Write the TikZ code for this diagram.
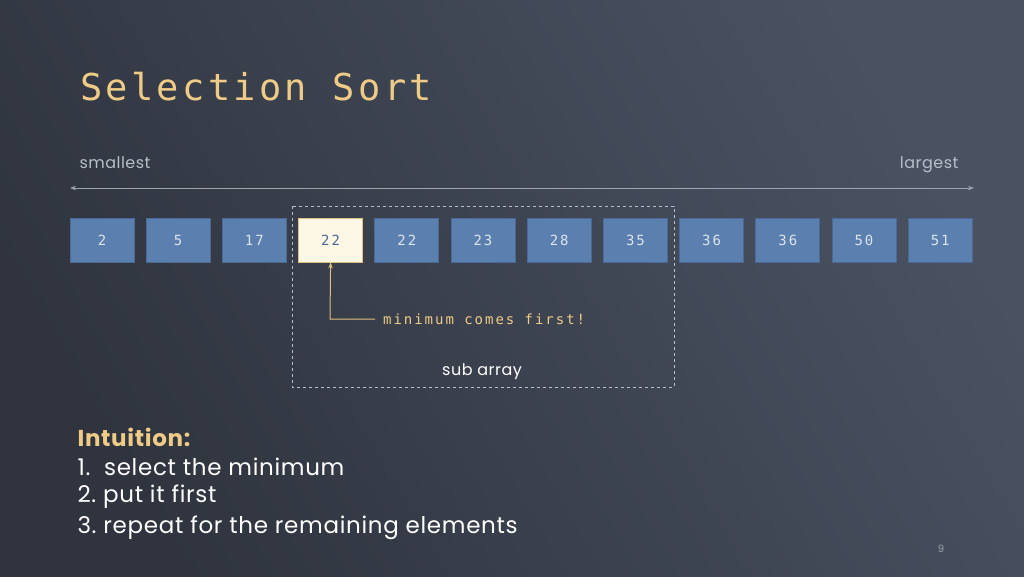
\documentclass[tikz,border=0pt]{standalone}
\usepackage{fontspec}
\setmainfont{Poppins}
\newfontfamily\monof{DejaVu Sans Mono}
\newfontfamily\monow[LetterSpace=14]{DejaVu Sans Mono}
\newfontfamily\monot[LetterSpace=9]{DejaVu Sans Mono}
\newfontfamily\bodyf[LetterSpace=3]{Poppins}
\usetikzlibrary{arrows.meta}
\definecolor{bgA}{HTML}{2F343E}
\definecolor{bgD}{HTML}{4A5262}
\definecolor{boxfill}{HTML}{5B7FAE}
\definecolor{boxline}{HTML}{4A6A95}
\definecolor{boxtext}{HTML}{DDE5EE}
\definecolor{hifill}{HTML}{FDF8E6}
\definecolor{hiline}{HTML}{E0C080}
\definecolor{gold}{HTML}{EFCB88}
\definecolor{soft}{HTML}{B8BEC8}
\definecolor{axis}{HTML}{9EA3AC}
\tikzset{
 cell/.style={draw=boxline, fill=boxfill, line width=0.8pt, minimum width=64pt, minimum height=44pt, inner sep=0pt, text=boxtext, font=\monow\fontsize{14}{16}\selectfont},
 hicell/.style={cell, fill=hifill, draw=hiline, text=boxline},
}
\begin{document}
\begin{tikzpicture}[x=1pt,y=-1pt]
\shade[left color=bgD, right color=bgA, shading angle=300] (0,0) rectangle (1024,576);
\useasboundingbox (0,0) rectangle (1024,576);
\node[anchor=west, inner sep=0pt, text=gold, font=\monot\fontsize{37}{40}\selectfont] (title) at (80,87) {Selection Sort};
\node[anchor=west, text=soft, font=\bodyf\fontsize{16}{18}\selectfont] (small) at (76,163) {smallest};
\node[anchor=east, text=soft, font=\bodyf\fontsize{16}{18}\selectfont] (large) at (962,165) {largest};
\coordinate (al) at (70,188); \coordinate (ar) at (974,188);
\draw[axis, line width=0.8pt, {Stealth[length=6pt]}-{Stealth[length=6pt]}] (al) -- (ar);
\foreach \v [count=\i] in {2,5,17,22,22,23,28,35,36,36,50,51}{
  \ifnum\i=4
    \node[hicell] (c\i) at ({102+76.2*(\i-1)},240) {\v};
  \else
    \node[cell] (c\i) at ({102+76.2*(\i-1)},240) {\v};
  \fi
}
\draw[soft, dashed, line width=0.8pt] (292,206) rectangle (674,387);
\node[text=white, font=\bodyf\fontsize{16}{18}\selectfont] (sub) at (482,372) {sub array};
\node[anchor=west, inner sep=0pt, text=gold, font=\monow\fontsize{14}{16}\selectfont] (minl) at (383,319) {minimum comes first!};
\draw[hiline, line width=1pt, -{Stealth[length=6pt]}] ([xshift=-8pt]minl.west) -- (330,319) -- (c4.south);
\node[anchor=west, text=gold, font=\bodyf\bfseries\fontsize{23}{26}\selectfont] (intu) at (74,437) {Intuition:};
\node[anchor=west, text=white, font=\bodyf\fontsize{23}{26}\selectfont] (l1) at (74,467) {1.\ \ select the minimum};
\node[anchor=west, text=white, font=\bodyf\fontsize{23}{26}\selectfont] (l2) at (74,497) {2.\ put it first};
\node[anchor=west, text=white, font=\bodyf\fontsize{23}{26}\selectfont] (l3) at (74,528) {3.\ repeat for the remaining elements};
\node[text=axis, font=\fontsize{10}{12}\selectfont] (pg) at (941,549) {9};
\end{tikzpicture}
\end{document}
